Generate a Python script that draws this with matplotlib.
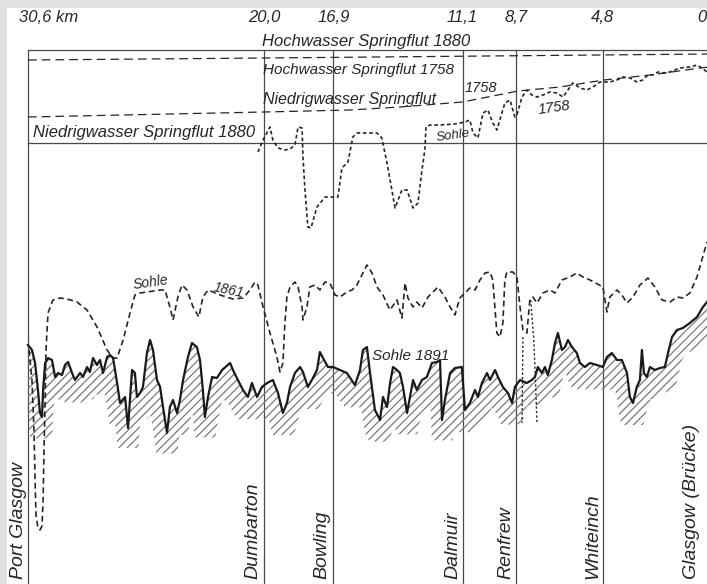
import numpy as np
import matplotlib
matplotlib.use("Agg")
import matplotlib.pyplot as plt

plt.rcParams['font.family'] = ['Liberation Sans', 'DejaVu Sans']
plt.rcParams['hatch.linewidth'] = 0.9

# ---- stations along the Clyde (km above Glasgow bridge) ----
station_km = [30.6, 20.0, 16.9, 11.1, 8.7, 4.8]
km_labels = ["30,6 km", "20,0", "16,9", "11,1", "8,7", "4,8", "0"]
km_label_pos = [31.0, 20.0, 16.9, 11.1, 8.7, 4.8, 0.14]
station_names = ["Port Glasgow", "Dumbarton", "Bowling", "Dalmuir",
                 "Renfrew", "Whiteinch", "Glasgow (Brücke)"]
name_pos = [30.64, 20.14, 17.05, 11.17, 8.79, 4.89, 0.45]

# ---- water levels (m above low water 1880) ----
hw_1880 = 3.72
nw_1880 = 0.0
hw_1758_km = [30.6, 20.0, 0.0]
hw_1758_m = [3.32, 3.40, 3.56]
nw_1758_km = [30.6, 20.0, 16.15, 13.91, 11.1, 8.61, 6.73, 4.76, 2.69, 0.45, 0.0]
nw_1758_m = [1.04, 1.24, 1.32, 1.44, 1.64, 2.08, 2.24, 2.52, 2.72, 3.00, 3.04]

# ---- river bed 1758 ----
sohle_1758_km = [20.28, 20.05, 19.74, 19.61, 19.38, 19.07, 18.84, 18.62, 18.48, 18.30,
                 18.26, 18.17, 18.04, 17.90, 17.63, 17.27, 16.69, 16.51, 16.24, 16.02,
                 15.84, 14.94, 14.72, 14.49, 14.27, 14.13, 13.82, 13.59, 13.32, 13.10,
                 12.92, 12.79, 12.74, 12.56, 12.11, 11.44, 10.99, 10.77, 10.63, 10.41,
                 10.18, 9.96, 9.74, 9.56, 9.20, 8.97, 8.75, 8.66, 8.43, 8.21,
                 7.99, 7.76, 7.49, 7.18, 6.86, 6.59, 6.37, 6.15, 5.83, 5.52,
                 5.25, 4.93, 4.49, 4.17, 3.90, 3.59, 3.28, 3.01, 2.78, 2.56,
                 2.33, 2.11, 1.79, 1.35, 0.90, 0.58, 0.36, 0.13]
sohle_1758_m = [-0.36, 0.12, 0.64, 0.12, -0.20, -0.28, -0.24, -0.08, 0.64, 0.60,
                -0.56, -1.88, -3.36, -3.40, -2.56, -2.16, -2.16, -1.00, -0.76, 0.24,
                0.40, 0.40, 0.20, -0.80, -1.88, -2.60, -1.88, -1.88, -2.60, -2.40,
                -1.08, -0.28, 0.64, 0.72, 0.72, 0.76, 0.84, 0.92, 0.40, 0.20,
                1.20, 1.32, 0.80, 0.52, 1.60, 1.72, 1.04, 1.12, 1.84, 2.12,
                1.92, 1.84, 1.92, 2.04, 2.00, 1.84, 2.12, 2.40, 2.20, 2.12,
                2.24, 2.44, 2.44, 2.52, 2.64, 2.60, 2.44, 2.52, 2.72, 2.72,
                2.84, 2.80, 2.84, 3.00, 3.04, 3.12, 3.00, 2.84]

# ---- river bed 1861 ----
sohle_1861_km = [30.55, 30.42, 30.33, 30.28, 30.24, 30.15, 30.06, 29.97, 29.92, 29.88,
                 29.83, 29.79, 29.70, 29.48, 29.16, 28.85, 28.40, 27.95, 27.50, 27.05,
                 26.78, 26.60, 26.33, 26.02, 25.80, 25.57, 24.67, 24.45, 24.23, 24.09,
                 23.87, 23.69, 23.46, 23.19, 22.93, 22.75, 22.52, 21.98, 21.40, 20.95,
                 20.64, 20.41, 20.28, 20.05, 19.74, 19.43, 19.29, 19.16, 19.07, 18.98,
                 18.84, 18.62, 18.48, 18.30, 18.26, 18.08, 17.95, 17.72, 17.50, 17.27,
                 17.05, 16.82, 16.60, 16.29, 16.06, 15.84, 15.39, 15.16, 14.94, 14.67,
                 14.36, 14.04, 13.82, 13.68, 13.55, 13.32, 13.15, 12.92, 12.65, 12.20,
                 11.89, 11.66, 11.44, 11.22, 10.99, 10.77, 10.54, 10.32, 10.09, 9.87,
                 9.74, 9.56, 9.42, 9.29, 9.20, 9.11, 8.84, 8.66, 8.52, 8.39,
                 8.21, 8.08, 7.94, 7.76, 7.49, 7.18, 6.95, 6.64, 6.28, 5.97,
                 5.70, 5.38, 4.80, 4.62, 4.49, 4.17, 3.95, 3.72, 3.45, 3.14,
                 2.78, 2.47, 2.15, 1.79, 1.48, 1.21, 0.90, 0.58, 0.36, 0.13]
sohle_1861_m = [-8.28, -9.48, -11.48, -13.48, -14.88, -15.40, -15.48, -15.32, -14.28, -12.28,
                -10.28, -8.28, -6.80, -6.28, -6.20, -6.24, -6.36, -6.68, -7.36, -8.28,
                -8.60, -8.60, -7.88, -6.80, -6.08, -6.00, -5.88, -5.88, -6.56, -7.08,
                -6.16, -5.68, -5.88, -6.56, -6.96, -6.16, -5.88, -6.08, -6.24, -6.20,
                -5.88, -5.56, -5.68, -6.56, -7.60, -8.56, -9.16, -8.80, -7.20, -6.16,
                -5.76, -5.56, -5.76, -6.56, -7.08, -6.56, -5.76, -5.68, -5.88, -5.56,
                -5.60, -6.08, -6.16, -5.96, -5.88, -5.68, -4.88, -5.20, -5.76, -6.08,
                -6.68, -6.28, -7.00, -5.60, -6.20, -6.56, -6.36, -6.60, -6.16, -5.76,
                -6.16, -6.56, -6.88, -6.20, -6.00, -5.80, -5.88, -5.48, -5.20, -5.16,
                -5.48, -7.60, -7.76, -7.20, -5.48, -5.16, -5.16, -5.36, -6.56, -7.48,
                -7.60, -6.28, -6.16, -6.40, -6.00, -5.88, -6.00, -5.48, -5.36, -5.20,
                -5.36, -5.48, -5.76, -6.76, -6.16, -5.88, -6.08, -6.40, -6.16, -5.68,
                -5.40, -5.76, -6.28, -6.36, -6.16, -6.20, -6.00, -5.36, -4.68, -3.96]

# dredged cuts near Renfrew (1861)
rinne_a_km = [8.39, 8.41, 8.43]
rinne_a_m = [-7.76, -9.50, -11.20]
rinne_b_km = [8.04, 7.90, 7.81, 7.76]
rinne_b_m = [-6.28, -7.90, -9.90, -11.20]

# ---- river bed 1891 ----
sohle_1891_km = [30.60, 30.42, 30.28, 30.15, 30.06, 29.97, 29.92, 29.83, 29.70, 29.52,
                 29.38, 29.25, 29.07, 28.94, 28.80, 28.62, 28.49, 28.26, 28.13, 27.95,
                 27.82, 27.68, 27.50, 27.37, 27.23, 27.05, 26.92, 26.78, 26.60, 26.47,
                 26.24, 26.11, 25.93, 25.80, 25.71, 25.57, 25.44, 25.26, 25.12, 24.99,
                 24.81, 24.67, 24.54, 24.36, 24.23, 24.09, 23.91, 23.78, 23.64, 23.42,
                 23.24, 23.02, 22.88, 22.75, 22.66, 22.52, 22.34, 22.12, 21.89, 21.53,
                 21.40, 21.18, 20.95, 20.73, 20.55, 20.32, 20.10, 19.87, 19.61, 19.38,
                 19.16, 18.98, 18.84, 18.62, 18.39, 18.26, 18.04, 17.86, 17.63, 17.50,
                 17.36, 17.14, 16.91, 16.60, 16.29, 15.93, 15.70, 15.57, 15.39, 15.25,
                 15.03, 14.80, 14.67, 14.49, 14.35, 14.22, 14.04, 13.91, 13.77, 13.59,
                 13.46, 13.32, 13.15, 12.92, 12.70, 12.47, 12.25, 12.11, 12.02, 11.89,
                 11.66, 11.44, 11.13, 10.99, 10.77, 10.54, 10.41, 10.23, 10.00, 9.87,
                 9.64, 9.51, 9.29, 9.06, 8.88, 8.75, 8.52, 8.21, 7.99, 7.85,
                 7.72, 7.54, 7.40, 7.27, 7.09, 6.95, 6.82, 6.64, 6.50, 6.37,
                 6.19, 5.97, 5.83, 5.61, 5.38, 5.07, 4.80, 4.62, 4.40, 4.17,
                 3.95, 3.72, 3.59, 3.45, 3.28, 3.14, 3.05, 2.96, 2.83, 2.69,
                 2.47, 2.24, 2.02, 1.88, 1.70, 1.48, 1.21, 0.90, 0.58, 0.31, 0.13]
sohle_1891_m = [-8.08, -8.28, -8.80, -9.88, -10.80, -10.96, -9.88, -8.80, -8.60, -8.68,
                -9.36, -9.20, -9.28, -8.88, -8.76, -9.20, -9.48, -9.20, -9.36, -8.96,
                -9.16, -8.60, -8.88, -8.68, -9.20, -8.56, -8.48, -8.60, -9.60, -10.40,
                -10.16, -11.40, -9.08, -9.20, -10.16, -10.00, -9.76, -8.40, -7.88, -8.28,
                -9.48, -9.76, -10.56, -11.60, -10.56, -10.28, -10.80, -10.28, -9.48, -8.56,
                -8.00, -8.16, -8.68, -9.88, -10.96, -10.16, -9.36, -9.40, -9.08, -8.80,
                -9.08, -9.48, -9.88, -10.16, -9.60, -10.16, -9.76, -9.60, -9.48, -10.00,
                -10.80, -10.40, -9.76, -9.20, -8.96, -9.16, -9.76, -9.48, -9.08, -8.36,
                -8.60, -8.96, -8.96, -9.08, -9.20, -9.68, -9.08, -8.28, -8.16, -9.20,
                -10.68, -11.08, -10.16, -10.56, -9.60, -8.96, -9.08, -9.20, -9.76, -10.80,
                -10.16, -9.48, -9.88, -9.48, -9.36, -8.80, -8.76, -8.68, -11.08, -10.28,
                -9.20, -9.00, -8.96, -10.68, -10.40, -9.88, -10.16, -9.60, -9.20, -9.48,
                -9.08, -9.36, -9.76, -10.00, -10.40, -9.76, -9.48, -9.60, -9.48, -9.36,
                -8.96, -9.20, -8.96, -9.28, -8.68, -8.00, -7.60, -8.28, -8.16, -7.88,
                -8.16, -8.40, -8.80, -8.96, -8.80, -8.88, -8.96, -8.56, -8.40, -8.68,
                -8.68, -9.20, -10.16, -10.40, -9.76, -9.48, -8.28, -9.20, -9.36, -8.96,
                -9.08, -9.00, -8.96, -8.40, -7.76, -7.48, -7.40, -7.20, -6.96, -6.56, -6.36]

INK = "#262626"
FRAME = "#4a4a4a"
HATCH = "#7a7a7a"

fig = plt.figure(figsize=(7.07, 5.84), dpi=100, facecolor="#e1e1e1")
ax = fig.add_axes([7 / 707, 0, 700 / 707, 576 / 584])
ax.set_facecolor("white")
ax.set_xlim(31.54, 0.13)
ax.set_ylim(-17.64, 5.40)
ax.axis("off")
ax.add_patch(plt.Rectangle((0, 0), 1, 1, transform=ax.transAxes,
                           facecolor="white", edgecolor="none", zorder=0))

# frame: high / low water 1880 and station verticals
ax.plot([30.6, 0.0], [hw_1880, hw_1880], color=FRAME, lw=0.9, zorder=2)
ax.plot([30.6, 0.0], [nw_1880, nw_1880], color=FRAME, lw=0.9, zorder=2)
for k in station_km:
    ax.plot([k, k], [-17.64, hw_1880], color=FRAME, lw=0.9, zorder=2)

# water levels 1758
ax.plot(hw_1758_km, hw_1758_m, color=INK, lw=0.9, ls=(0, (7, 4)), zorder=3)
ax.plot(nw_1758_km, nw_1758_m, color=INK, lw=0.9, ls=(0, (7, 4)), zorder=3)

# river beds
ax.plot(sohle_1758_km, sohle_1758_m, color=INK, lw=1.2, ls=(0, (2.2, 1.6)), zorder=4)
ax.plot(sohle_1861_km, sohle_1861_m, color=INK, lw=1.2, ls=(0, (3.5, 2.2)), zorder=4)
ax.plot(rinne_a_km, rinne_a_m, color=INK, lw=1.0, ls=(0, (1.6, 1.6)), zorder=4)
ax.plot(rinne_b_km, rinne_b_m, color=INK, lw=1.0, ls=(0, (1.6, 1.6)), zorder=4)

# 1891 bed with hatched ground below it
xs = np.array(sohle_1891_km)[::-1]
ys = np.array(sohle_1891_m)[::-1]
grid = np.linspace(xs.min(), xs.max(), 1200)
bed = np.interp(grid, xs, ys)
win = 18
padded = np.pad(bed, win, mode="edge")
lower = np.array([padded[i:i + 2 * win + 1].min() for i in range(len(bed))]) - 0.9
ax.fill_between(grid, bed, lower, facecolor="none", edgecolor=HATCH,
                hatch="////", linewidth=0, zorder=3)
ax.plot(sohle_1891_km, sohle_1891_m, color="#1a1a1a", lw=1.6, zorder=5,
        solid_joinstyle="round")

# kilometre marks
for lab, k in zip(km_labels, km_label_pos):
    if lab.endswith("km"):
        ha = "left"
    elif lab == "0":
        ha = "right"
    else:
        ha = "center"
    ax.text(k, 5.04, lab, ha=ha, va="center", fontsize=12, style="italic", color=INK)

# station names
for name, k in zip(station_names, name_pos):
    ax.text(k, -17.44, name, rotation=90, ha="right", va="bottom",
            fontsize=14, style="italic", color=INK)

txt = dict(style="italic", color=INK)
ax.text(20.10, 3.88, "Hochwasser Springflut 1880", ha="left", va="baseline", fontsize=12, **txt)
ax.text(20.05, 2.76, "Hochwasser Springflut 1758", ha="left", va="baseline", fontsize=11, **txt)
ax.text(20.05, 1.56, "Niedrigwasser Springflut", ha="left", va="baseline", fontsize=11.5, **txt)
ax.text(11.0, 2.04, "1758", ha="left", va="baseline", fontsize=10.5, **txt)
ax.text(7.76, 1.40, "1758", ha="left", va="center", fontsize=10.5, rotation=8, **txt)
ax.text(30.37, 0.24, "Niedrigwasser Springflut 1880", ha="left", va="baseline", fontsize=12, **txt)
ax.text(12.34, 0.28, "Sohle", ha="left", va="center", fontsize=9.5, rotation=8, **txt)
ax.text(25.93, -5.60, "Sohle", ha="left", va="center", fontsize=10, rotation=8, **txt)
ax.text(22.34, -5.88, "1861", ha="left", va="center", fontsize=10, rotation=-12, **txt)
ax.text(15.16, -8.68, "Sohle 1891", ha="left", va="baseline", fontsize=11, **txt)

fig.savefig("out.png", dpi=100, facecolor=fig.get_facecolor())
